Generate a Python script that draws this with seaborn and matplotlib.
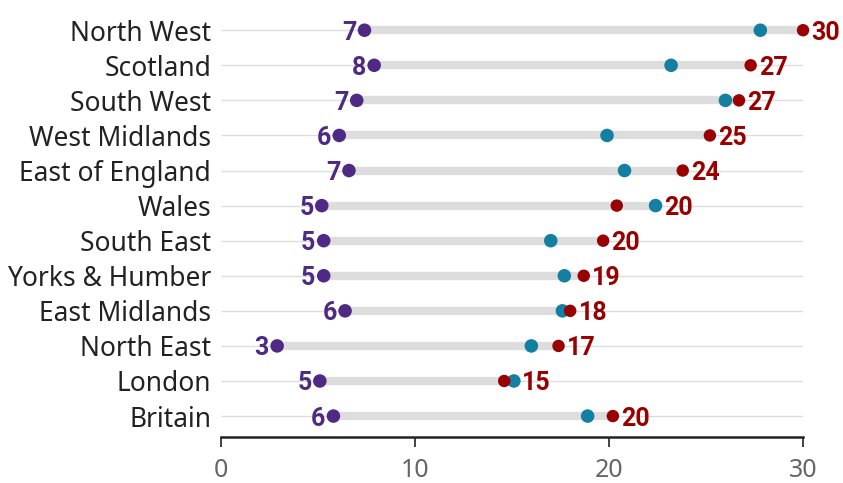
import numpy as np
import pandas as pd
import seaborn as sns
import matplotlib.pyplot as plt

# valeurs
regions = ['North West', 'Scotland', 'South West', 'West Midlands', 'East of England',
           'Wales', 'South East', 'Yorks & Humber', 'East Midlands', 'North East',
           'London', 'Britain']
low = [7.4, 7.9, 7.0, 6.1, 6.6, 5.2, 5.3, 5.3, 6.4, 2.9, 5.1, 5.8]
mid = [27.8, 23.2, 26.0, 19.9, 20.8, 22.4, 17.0, 17.7, 17.6, 16.0, 15.1, 18.9]
high = [30.0, 27.3, 26.7, 25.2, 23.8, 20.4, 19.7, 18.7, 18.0, 17.4, 14.6, 20.2]
xticks = [0, 10, 20, 30]

purple = '#4e2a84'
teal = '#1380a1'
red = '#990000'

df = pd.DataFrame({'region': regions, 'low': low, 'mid': mid, 'high': high})
df['pos'] = np.arange(len(df))
df['end'] = df[['mid', 'high']].max(axis=1)

sns.set_style('white')
plt.rcParams['font.family'] = ['Noto Sans', 'DejaVu Sans']

fig = plt.figure(figsize=(8.43, 4.83), dpi=100)
ax = fig.add_axes([0.262, 0.095, 0.6906, 0.886])

# lignes de fond et barres grises
ax.hlines(df['pos'], 0, 30, color='#dddddd', lw=1, zorder=0)
ax.hlines(df['pos'], df['low'], df['end'], color='#dddddd', lw=6, zorder=1)

sns.scatterplot(data=df, x='low', y='pos', color=purple, s=95, edgecolor='none', ax=ax,
                zorder=3, clip_on=False)
sns.scatterplot(data=df, x='mid', y='pos', color=teal, s=95, edgecolor='none', ax=ax,
                zorder=3, clip_on=False)
sns.scatterplot(data=df, x='high', y='pos', color=red, s=80, edgecolor='none', ax=ax,
                zorder=4, clip_on=False)

for _, r in df.iterrows():
    ax.annotate(f"{round(r['low']):.0f}", (r['low'], r['pos']), xytext=(-6, 0),
                textcoords='offset points', ha='right', va='center_baseline',
                color=purple, fontsize=18, fontweight='bold', family='Roboto')
    ax.annotate(f"{round(r['high']):.0f}", (r['end'], r['pos']), xytext=(6, 0),
                textcoords='offset points', ha='left', va='center_baseline',
                color=red, fontsize=18, fontweight='bold', family='Roboto',
                annotation_clip=False)

ax.set_xlim(0, 30)
ax.set_ylim(len(df) - 0.4, -0.6)
ax.set_yticks(df['pos'])
ax.set_yticklabels(df['region'])
ax.set_xticks(xticks)
ax.set_xlabel('')
ax.set_ylabel('')

for s in ['top', 'right', 'left']:
    ax.spines[s].set_visible(False)
ax.spines['bottom'].set_color('#222222')
ax.spines['bottom'].set_linewidth(1.8)
ax.tick_params(axis='y', left=False, length=0, pad=7, labelsize=19, labelcolor='#222222')
ax.tick_params(axis='x', bottom=True, length=7, width=1.2, color='#222222', pad=8,
               labelsize=18, labelcolor='#666666')

plt.savefig('out.png', dpi=100)
